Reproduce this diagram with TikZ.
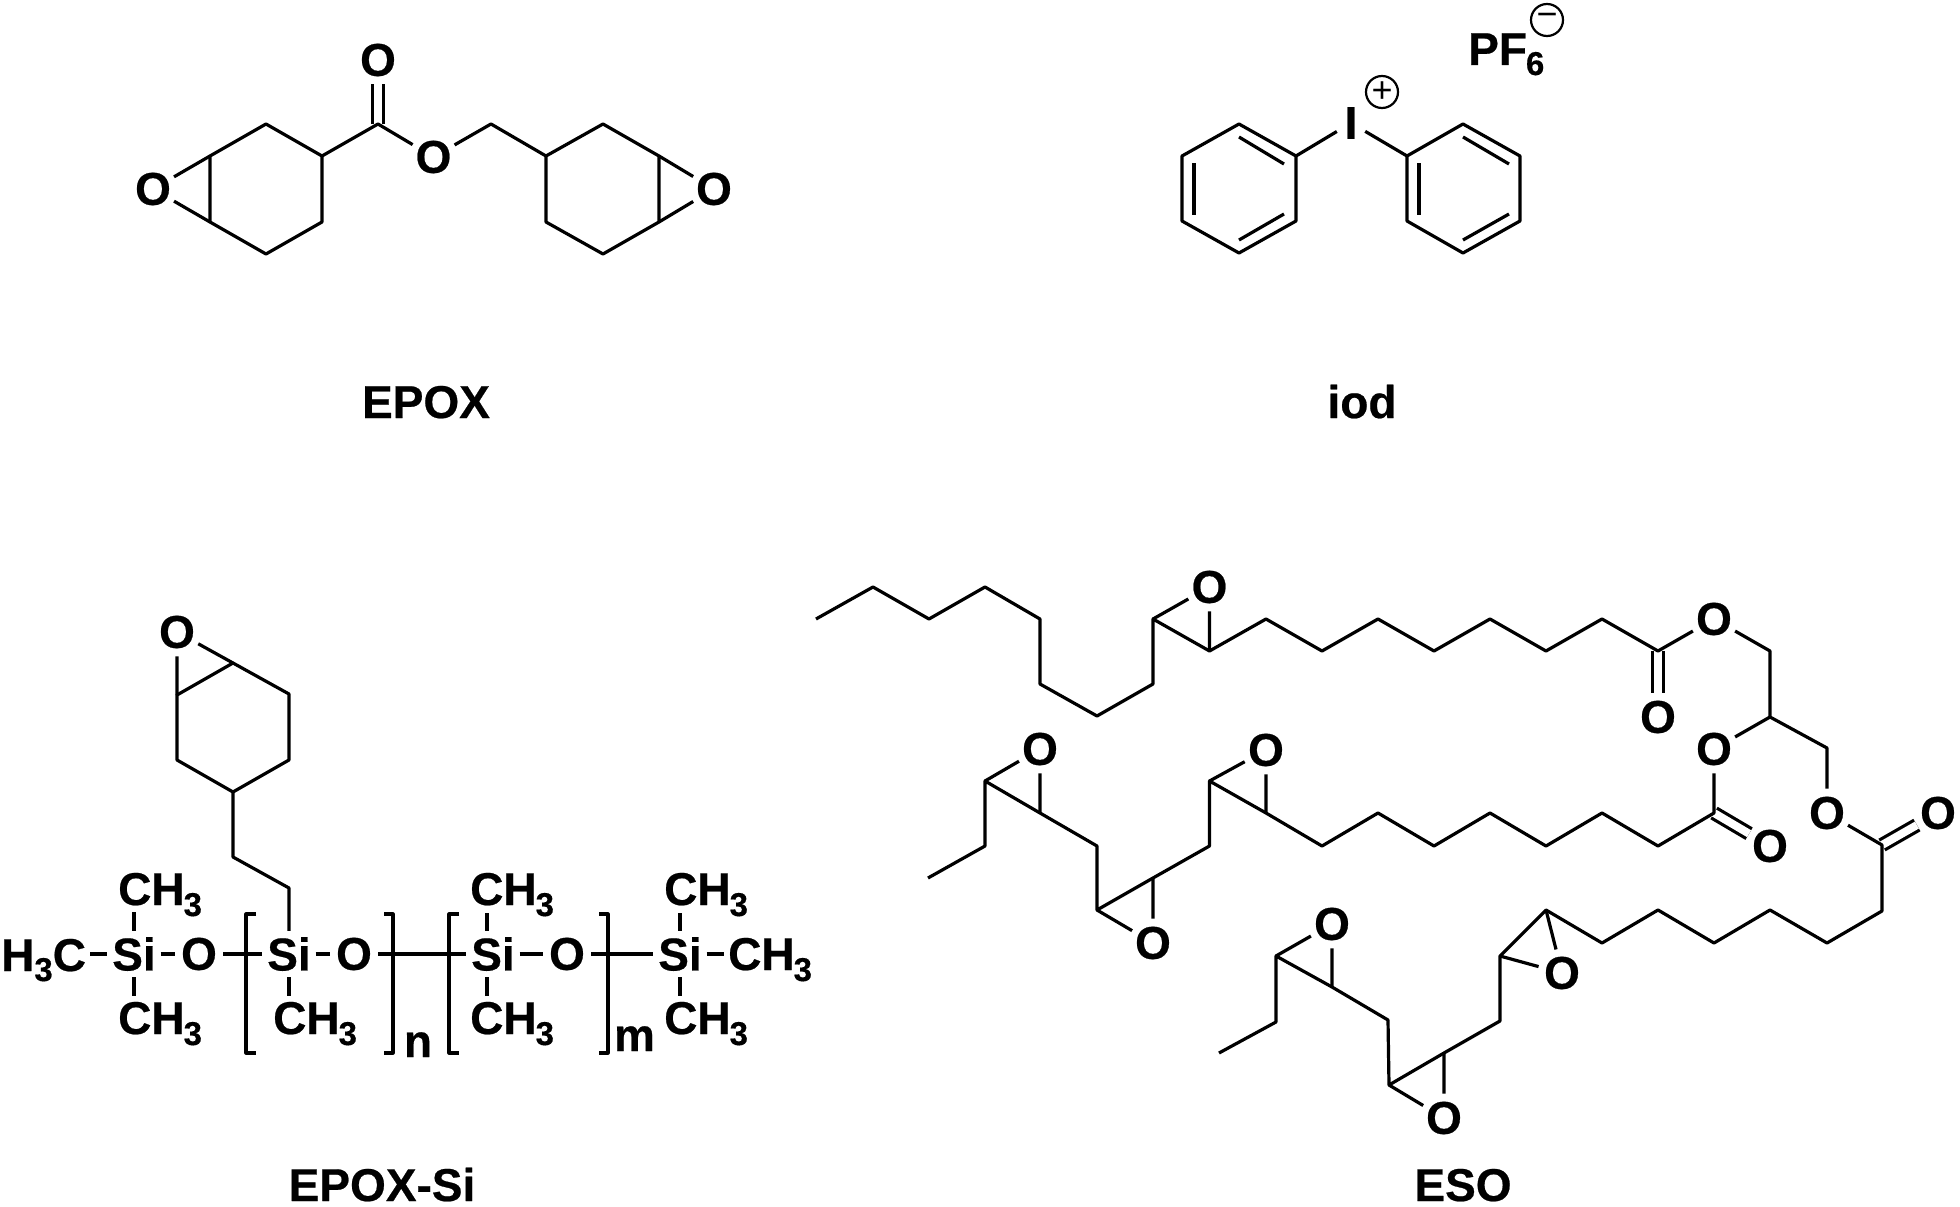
\documentclass[tikz,border=0pt]{standalone}
\usepackage{fontspec}
\setmainfont[BoldFeatures={FakeBold=0.5}]{Liberation Sans}
\newcommand{\atomfont}{\fontsize{46}{46}\selectfont\bfseries}
\newcommand{\subthree}{\kern-1pt\raisebox{-11pt}{\fontsize{33}{33}\selectfont 3}}
\tikzset{
  bond/.style={line width=3.2pt,line join=round},
  dbond/.style={line width=3.2pt,double,double distance=8pt},
  atom/.style={font=\atomfont,inner sep=0pt},
  oxy/.style={atom,circle,minimum size=48pt},
  sil/.style={atom,minimum width=53pt,minimum height=46pt},
  iod/.style={atom,minimum width=28pt},
  chg/.style={draw,circle,line width=2.2pt,inner sep=0pt,minimum size=32pt,font=\fontsize{36}{36}\selectfont}
}
\begin{document}
\begin{tikzpicture}[x=1pt,y=-1pt]
  \useasboundingbox (0,0) rectangle (1960,1207);

  % EPOX
  \coordinate (ep1) at (266,124); \coordinate (ep2) at (322,156); \coordinate (ep3) at (322,222);
  \coordinate (ep4) at (266,254); \coordinate (ep5) at (210,222); \coordinate (ep6) at (210,156);
  \coordinate (ec) at (378,124);  \coordinate (eh) at (491,124);
  \coordinate (er1) at (546,156); \coordinate (er2) at (603,124); \coordinate (er3) at (659,156);
  \coordinate (er4) at (659,222); \coordinate (er5) at (603,254); \coordinate (er6) at (546,222);
  \node[oxy] (eol) at (153,189) {O};
  \node[oxy] (eod) at (378,60) {O};
  \node[oxy] (eos) at (433.5,157) {O};
  \node[oxy] (eor) at (714,189) {O};
  \draw[dbond] (ec) -- (eod);
  \draw[bond] (ep6) -- (ep1) -- (ep2) -- (ep3) -- (ep4) -- (ep5) -- cycle;
  \draw[bond] (ep6) -- (eol) -- (ep5);
  \draw[bond] (ep2) -- (ec) -- (eos) -- (eh) -- (er1);
  \draw[bond] (er1) -- (er2) -- (er3) -- (er4) -- (er5) -- (er6) -- cycle;
  \draw[bond] (er3) -- (eor) -- (er4);
  \node[atom,anchor=base] (eplab) at (426,418) {EPOX};

  % iod
  \coordinate (pa1) at (1239,124); \coordinate (pa2) at (1296,156); \coordinate (pa3) at (1296,221);
  \coordinate (pa4) at (1239,253); \coordinate (pa5) at (1182,221); \coordinate (pa6) at (1182,156);
  \coordinate (pb1) at (1463,124); \coordinate (pb2) at (1520,156); \coordinate (pb3) at (1520,221);
  \coordinate (pb4) at (1463,253); \coordinate (pb5) at (1407,221); \coordinate (pb6) at (1407,156);
  \coordinate (ia1) at (1239,137); \coordinate (ia2) at (1284,164);
  \coordinate (ia3) at (1194,163); \coordinate (ia4) at (1194,215);
  \coordinate (ia5) at (1239,240); \coordinate (ia6) at (1284,214);
  \coordinate (ib1) at (1463,137); \coordinate (ib2) at (1509,164);
  \coordinate (ib3) at (1419,163); \coordinate (ib4) at (1419,215);
  \coordinate (ib5) at (1463,240); \coordinate (ib6) at (1509,214);
  \node[iod] (iat) at (1351,123) {I};
  \draw[bond] (pa1) -- (pa2) -- (pa3) -- (pa4) -- (pa5) -- (pa6) -- cycle;
  \draw[bond] (pb1) -- (pb2) -- (pb3) -- (pb4) -- (pb5) -- (pb6) -- cycle;
  \draw[bond] (pa2) -- (iat) -- (pb6);
  \draw[bond] (ia1) -- (ia2);
  \draw[bond] (ia3) -- (ia4);
  \draw[bond] (ia5) -- (ia6);
  \draw[bond] (ib1) -- (ib2);
  \draw[bond] (ib3) -- (ib4);
  \draw[bond] (ib5) -- (ib6);
  \node[chg] (plus) at (1382,92) {+};
  \node[chg] (minus) at (1547,20) {\char"2212};
  \node[atom,anchor=base west] (pf) at (1468,65) {PF\kern-1pt\raisebox{-10pt}{\fontsize{33}{33}\selectfont 6}};
  \node[atom,anchor=base] (iodlab) at (1362,418) {iod};

  % EPOX-Si
  \coordinate (sr1) at (233,663); \coordinate (sr2) at (289,694); \coordinate (sr3) at (289,760);
  \coordinate (sr4) at (233,792); \coordinate (sr5) at (177,760); \coordinate (sr6) at (177,695);
  \coordinate (sc1) at (233,857); \coordinate (sc2) at (289,888);
  \node[oxy] (so) at (177,632) {O};
  \node[sil] (si1) at (134,954) {Si};
  \node[oxy] (so1) at (199,954) {O};
  \node[sil] (si2) at (289,954) {Si};
  \node[oxy] (so2) at (354,954) {O};
  \node[sil] (si3) at (493,954) {Si};
  \node[oxy] (so3) at (567,954) {O};
  \node[sil] (si4) at (680,954) {Si};
  \node[atom,anchor=base west] (hc) at (1,971) {H\raisebox{-10pt}{\fontsize{33}{33}\selectfont 3}C};
  \node[atom,anchor=base west] (me1) at (118,905) {CH\subthree};
  \node[atom,anchor=base west] (me2) at (118,1034) {CH\subthree};
  \node[atom,anchor=base west] (me3) at (273,1034) {CH\subthree};
  \node[atom,anchor=base west] (me4) at (470,905) {CH\subthree};
  \node[atom,anchor=base west] (me5) at (470,1034) {CH\subthree};
  \node[atom,anchor=base west] (me6) at (664,905) {CH\subthree};
  \node[atom,anchor=base west] (me7) at (664,1034) {CH\subthree};
  \node[atom,anchor=base west] (me8) at (728,970) {CH\subthree};
  \node[atom,anchor=base] (nlab) at (418,1057) {n};
  \node[atom,anchor=base] (mlab) at (634.5,1051) {m};
  \coordinate (hcend) at (90,954);  \coordinate (me8end) at (724,954);
  \coordinate (tk1) at (134,912);   \coordinate (tk2) at (134,996);
  \coordinate (tk3) at (289,996);
  \coordinate (tk4) at (487,913);   \coordinate (tk5) at (487,996);
  \coordinate (tk6) at (680,913);   \coordinate (tk7) at (680,996);
  \draw[bond] (sr1) -- (sr2) -- (sr3) -- (sr4) -- (sr5) -- (sr6) -- cycle;
  \draw[bond] (sr6) -- (so) -- (sr1);
  \draw[bond] (sr4) -- (sc1) -- (sc2) -- (si2);
  \draw[bond] (hcend) -- (si1) -- (so1) -- (si2) -- (so2) -- (si3) -- (so3) -- (si4) -- (me8end);
  \draw[bond] (tk1) -- (si1) -- (tk2);
  \draw[bond] (si2) -- (tk3);
  \draw[bond] (tk4) -- (tk4 |- si3.north);
  \draw[bond] (tk5) -- (tk5 |- si3.south);
  \draw[bond] (tk6) -- (si4) -- (tk7);
  \draw[bond] (256,914) -- (246,914) -- (246,1053) -- (256,1053);
  \draw[bond] (384,914) -- (393,914) -- (393,1053) -- (384,1053);
  \draw[bond] (459,914) -- (449,914) -- (449,1053) -- (459,1053);
  \draw[bond] (599,914) -- (608,914) -- (608,1053) -- (599,1053);
  \node[atom,anchor=base] (silab) at (382,1201) {EPOX-Si};

  % ESO, top chain
  \coordinate (t1) at (816,619);    \coordinate (t2) at (873,587);    \coordinate (t3) at (929,619);
  \coordinate (t4) at (985,587);    \coordinate (t5) at (1040,619);   \coordinate (t6) at (1040,684);
  \coordinate (t7) at (1097,716);   \coordinate (t8) at (1153,684);   \coordinate (t9) at (1153,619);
  \coordinate (t10) at (1209.5,651);\coordinate (t11) at (1266,619);  \coordinate (t12) at (1322,651);
  \coordinate (t13) at (1378,619);  \coordinate (t14) at (1434,651);  \coordinate (t15) at (1490,619);
  \coordinate (t16) at (1546,651);  \coordinate (t17) at (1602,619);  \coordinate (t18) at (1658,651);
  \coordinate (g1) at (1770,651);   \coordinate (g2) at (1770,717);   \coordinate (g3) at (1827,748);
  \node[oxy] (toe) at (1209.5,587) {O};
  \node[oxy] (oa) at (1714,619) {O};
  \node[oxy] (oc) at (1658,717) {O};
  \node[oxy] (ob) at (1714,749) {O};
  \node[oxy] (od) at (1770,846) {O};
  \node[oxy] (oe) at (1827,813) {O};
  \node[oxy] (of) at (1938,813) {O};
  \draw[dbond] (t18) -- (oc);
  \draw[bond] (t1) -- (t2) -- (t3) -- (t4) -- (t5) -- (t6) -- (t7) -- (t8) -- (t9) -- (t10) -- (t11) -- (t12)
    -- (t13) -- (t14) -- (t15) -- (t16) -- (t17) -- (t18) -- (oa) -- (g1) -- (g2) -- (g3) -- (oe);
  \draw[bond] (t9) -- (toe) -- (t10);
  \draw[bond] (g2) -- (ob);

  % ESO, middle chain
  \coordinate (m1) at (1714,813);   \coordinate (m2) at (1658,846);   \coordinate (m3) at (1602,813);
  \coordinate (m4) at (1546,846);   \coordinate (m5) at (1490,813);   \coordinate (m6) at (1434,846);
  \coordinate (m7) at (1378,813);   \coordinate (m8) at (1322,846);   \coordinate (m9) at (1266,813);
  \coordinate (m10) at (1209.5,781);\coordinate (m11) at (1209.5,846);\coordinate (m12) at (1153,878);
  \coordinate (m13) at (1097,910);  \coordinate (m14) at (1097,846);  \coordinate (m15) at (1040,813);
  \coordinate (m16) at (985,781);   \coordinate (m17) at (985,846);   \coordinate (m18) at (928,878);
  \node[oxy] (moa) at (1266,750) {O};
  \node[oxy] (mob) at (1153,943) {O};
  \node[oxy] (moc) at (1040,749) {O};
  \draw[dbond] (m1) -- (od);
  \draw[bond] (ob) -- (m1) -- (m2) -- (m3) -- (m4) -- (m5) -- (m6) -- (m7) -- (m8) -- (m9) -- (m10) -- (m11)
    -- (m12) -- (m13) -- (m14) -- (m15) -- (m16) -- (m17) -- (m18);
  \draw[bond] (m9) -- (moa) -- (m10);
  \draw[bond] (m12) -- (mob) -- (m13);
  \draw[bond] (m15) -- (moc) -- (m16);

  % ESO, lower chain
  \coordinate (rc) at (1882,845);   \coordinate (l1) at (1882,911);   \coordinate (l2) at (1827,943);
  \coordinate (l3) at (1770,910);   \coordinate (l4) at (1714,943);   \coordinate (l5) at (1658,910);
  \coordinate (l6) at (1602,943);   \coordinate (l7) at (1546,910);   \coordinate (l8) at (1500,956);
  \coordinate (l9) at (1500,1021);  \coordinate (l10) at (1444,1053); \coordinate (l11) at (1389,1085);
  \coordinate (l12) at (1388,1020); \coordinate (l13) at (1332,987);  \coordinate (l14) at (1276,956);
  \coordinate (l15) at (1276,1022); \coordinate (l16) at (1219,1053);
  \node[oxy] (loa) at (1562,973) {O};
  \node[oxy] (lob) at (1444,1118) {O};
  \node[oxy] (loc) at (1332,924) {O};
  \draw[dbond] (rc) -- (of);
  \draw[bond] (oe) -- (rc) -- (l1) -- (l2) -- (l3) -- (l4) -- (l5) -- (l6) -- (l7) -- (l8) -- (l9) -- (l10)
    -- (l11) -- (l12) -- (l13) -- (l14) -- (l15) -- (l16);
  \draw[bond] (l7) -- (loa) -- (l8);
  \draw[bond] (l10) -- (lob) -- (l11);
  \draw[bond] (l13) -- (loc) -- (l14);
  \node[atom,anchor=base] (esolab) at (1463,1201) {ESO};
\end{tikzpicture}
\end{document}
